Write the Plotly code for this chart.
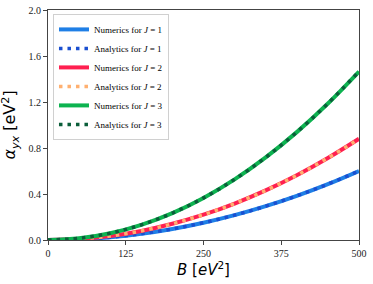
import plotly.graph_objects as go

B = [0, 50, 100, 150, 200, 250, 300, 350, 400, 450, 500]
alpha_J1 = [0.0, 0.006, 0.024, 0.054, 0.096, 0.150, 0.216, 0.294, 0.384, 0.486, 0.600]
alpha_J2 = [0.0, 0.009, 0.035, 0.079, 0.141, 0.220, 0.317, 0.431, 0.563, 0.713, 0.880]
alpha_J3 = [0.0, 0.015, 0.059, 0.132, 0.234, 0.366, 0.527, 0.718, 0.938, 1.187, 1.465]

x_ticks = [0, 125, 250, 375, 500]
y_ticks = [0.0, 0.4, 0.8, 1.2, 1.6, 2.0]

series = [
    (1, alpha_J1, "#1f7fe6", "#1a4fd0"),
    (2, alpha_J2, "#ff2050", "#ffb070"),
    (3, alpha_J3, "#0db350", "#0b5e3a"),
]

fig = go.Figure()
for J, vals, c_num, c_ana in series:
    fig.add_trace(go.Scatter(
        x=B, y=vals, mode="lines", line=dict(color=c_num, width=4, shape="spline"),
        name=f"Numerics for <i>J</i> = {J}"))
    fig.add_trace(go.Scatter(
        x=B, y=vals, mode="lines", line=dict(color=c_ana, width=3.5, shape="spline", dash="3.5px,5px"),
        name=f"Analytics for <i>J</i> = {J}"))

axis_common = dict(
    showline=True, linecolor="#444", linewidth=1, mirror=True,
    ticks="outside", ticklen=4, tickcolor="#444", tickwidth=1,
    showgrid=False, zeroline=False, automargin=False, ticklabeloverflow="allow",
    tickfont=dict(family="Liberation Serif", size=10, color="#222"),
)

fig.update_layout(
    width=373, height=284,
    margin=dict(l=48, r=14, t=10, b=44),
    paper_bgcolor="white", plot_bgcolor="white",
    xaxis=dict(range=[0, 500], tickvals=x_ticks, ticktext=[str(v) for v in x_ticks],
               **axis_common),
    yaxis=dict(range=[0, 2.0], tickvals=y_ticks, ticktext=[f"{v:.1f}" for v in y_ticks],
               **axis_common),
    legend=dict(x=0.016, y=0.983, xanchor="left", yanchor="top",
                bgcolor="rgba(255,255,255,0.9)", bordercolor="#d0d0d0", borderwidth=1,
                font=dict(family="Liberation Serif", size=9, color="black"),
                itemwidth=30, tracegroupgap=0),
    showlegend=True,
    annotations=[
        dict(text="<i>B</i> [<i>eV</i><sup>2</sup>]", xref="paper", yref="paper",
             x=0.5, y=-0.075, xanchor="center", yanchor="top", showarrow=False,
             font=dict(family="DejaVu Sans", size=15, color="black")),
        dict(text="<i>α</i><sub><i>yx</i></sub> [eV<sup>2</sup>]", xref="paper", yref="paper",
             x=-0.08, y=0.5, xanchor="right", yanchor="middle", showarrow=False, textangle=-90,
             font=dict(family="DejaVu Sans", size=16, color="black")),
    ],
)

fig.write_html("out.html", config={"displayModeBar": False},
               post_script="document.body.style.margin='0';")
